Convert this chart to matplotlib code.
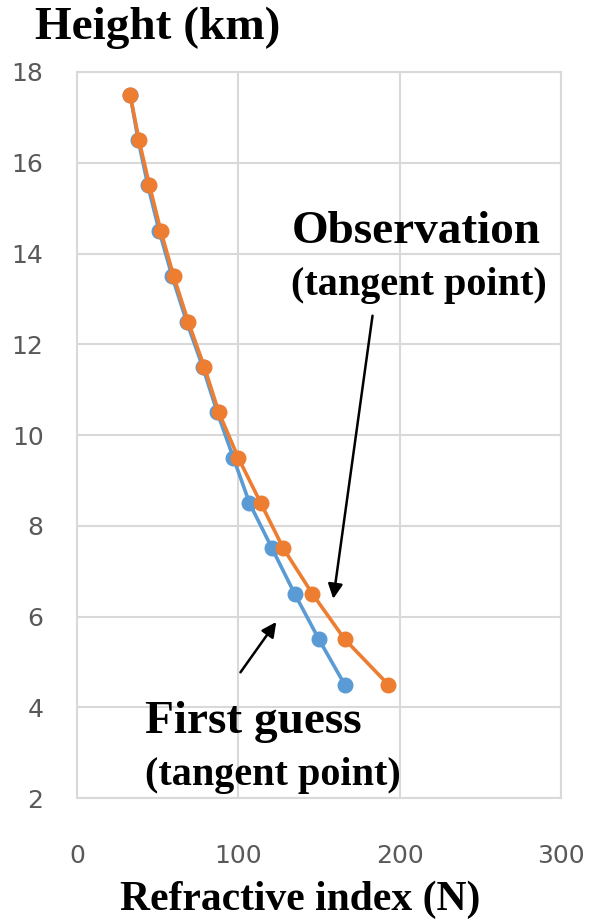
import matplotlib.pyplot as plt

heights = [17.5, 16.5, 15.5, 14.5, 13.5, 12.5, 11.5, 10.5, 9.5, 8.5, 7.5, 6.5, 5.5, 4.5]
obs_n = [33, 38.5, 45, 52, 60, 69, 79, 88, 100, 114, 128, 146, 166, 193]
guess_n = [33, 38, 44, 51, 59, 68, 78, 87, 97, 107, 121, 135, 150, 166]

x_ticks = [0, 100, 200, 300]
y_ticks = [2, 4, 6, 8, 10, 12, 14, 16, 18]

blue = '#5B9BD5'
orange = '#ED7D31'
serif = 'Liberation Serif'

fig = plt.figure(figsize=(5.96, 9.23), dpi=100)
ax = fig.add_axes([0.129, 0.1354, 0.812, 0.7866])

ax.plot(guess_n, heights, color=blue, lw=2.6, marker='o', ms=10.5)
ax.plot(obs_n, heights, color=orange, lw=2.6, marker='o', ms=10.5)

ax.set_xlim(0, 300)
ax.set_ylim(2, 18)
ax.set_xticks(x_ticks)
ax.set_yticks(y_ticks)
ax.grid(True, color='#d9d9d9', lw=1.5)
ax.set_axisbelow(True)
for s in ax.spines.values():
    s.set_color('#d9d9d9')
    s.set_linewidth(1.5)
ax.tick_params(length=0, labelsize=18, labelcolor='#595959')
ax.tick_params(axis='x', pad=33)
ax.tick_params(axis='y', pad=24)
for lab in ax.get_xticklabels() + ax.get_yticklabels():
    lab.set_family('DejaVu Sans')

# annotations
ax.annotate('', xy=(158.7, 6.33), xytext=(183.5, 12.69),
            arrowprops=dict(arrowstyle='-|>', color='black', lw=1.8, mutation_scale=22))
ax.annotate('', xy=(124.6, 5.93), xytext=(100.4, 4.72),
            arrowprops=dict(arrowstyle='-|>', color='black', lw=1.8, mutation_scale=22))

ax.text(133, 14.48, 'Observation', family=serif, weight='bold', fontsize=34,
        ha='left', va='center')
ax.text(133, 13.3, '(tangent point)', family=serif, weight='bold', fontsize=29,
        ha='left', va='center')
ax.text(42, 3.68, 'First guess', family=serif, weight='bold', fontsize=34,
        ha='left', va='center')
ax.text(42, 2.5, '(tangent point)', family=serif, weight='bold', fontsize=29,
        ha='left', va='center')

fig.text(35 / 596, 1 - 28 / 923, 'Height (km)', family=serif, weight='bold',
         fontsize=34, ha='left', va='center')
fig.text(300 / 596, 1 - 900 / 923, 'Refractive index (N)', family=serif,
         weight='bold', fontsize=30, ha='center', va='center')

fig.savefig('out.png', dpi=100)
